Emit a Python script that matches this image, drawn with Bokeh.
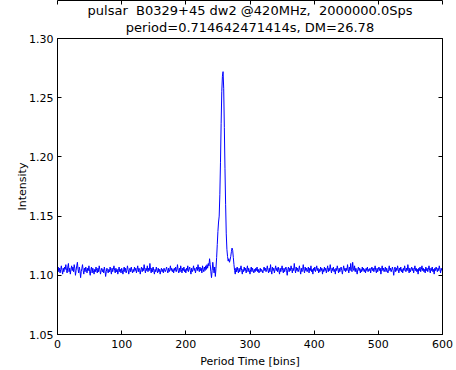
from bokeh.plotting import figure
from bokeh.models import Title, LinearAxis, Range1d, FixedTicker
from bokeh.embed import file_html
from bokeh.resources import INLINE

title_line1 = "pulsar\u00a0 B0329+45 dw2 @420MHz,\u00a0 2000000.0Sps"
title_line2 = "period=0.714642471414s, DM=26.78"
x_label = "Period Time [bins]"
y_label = "Intensity"
x_ticks = [0, 100, 200, 300, 400, 500, 600]
y_ticks = [1.05, 1.10, 1.15, 1.20, 1.25, 1.30]

# bins 0-229
left_baseline = [
    1.104,1.107,1.103,1.106,1.102,1.105,1.108,1.104,1.101,1.106,1.103,1.107,1.105,1.109,1.104,1.102,1.107,1.110,1.103,1.106,
    1.101,1.105,1.108,1.104,1.107,1.103,1.109,1.106,1.100,1.104,1.108,1.111,1.105,1.102,1.107,1.104,1.098,1.103,1.106,1.109,
    1.104,1.101,1.106,1.103,1.107,1.105,1.102,1.106,1.104,1.108,1.103,1.100,1.105,1.107,1.102,1.106,1.104,1.101,1.105,1.103,
    1.107,1.104,1.102,1.106,1.103,1.108,1.105,1.101,1.104,1.106,1.103,1.105,1.102,1.107,1.104,1.099,1.103,1.106,1.104,1.102,
    1.105,1.103,1.107,1.104,1.101,1.106,1.103,1.105,1.108,1.104,1.102,1.106,1.103,1.105,1.101,1.104,1.107,1.103,1.105,1.102,
    1.106,1.104,1.101,1.105,1.107,1.103,1.106,1.102,1.104,1.108,1.105,1.101,1.104,1.106,1.103,1.107,1.104,1.102,1.105,1.103,
    1.107,1.104,1.106,1.102,1.105,1.108,1.103,1.106,1.104,1.101,1.105,1.107,1.103,1.106,1.104,1.109,1.105,1.102,1.106,1.104,
    1.108,1.103,1.106,1.104,1.110,1.105,1.102,1.106,1.103,1.107,1.104,1.101,1.105,1.103,1.107,1.104,1.102,1.106,1.103,1.105,
    1.101,1.104,1.106,1.103,1.105,1.102,1.106,1.104,1.103,1.105,1.107,1.104,1.102,1.106,1.103,1.105,1.108,1.104,1.106,1.103,
    1.105,1.102,1.106,1.104,1.107,1.103,1.105,1.109,1.104,1.102,1.106,1.103,1.108,1.105,1.102,1.106,1.104,1.107,1.103,1.105,
    1.102,1.106,1.104,1.108,1.103,1.105,1.107,1.104,1.101,1.106,1.103,1.105,1.108,1.104,1.106,1.102,1.105,1.107,1.104,1.109,
    1.105,1.103,1.107,1.104,1.106,1.102,1.108,1.105,1.103,1.107,
]

# bins 230-289
pulse_region = [
    1.104,1.108,1.105,1.109,1.106,1.110,1.108,1.114,1.109,1.103,
    1.098,1.104,1.111,1.106,1.102,1.107,1.099,1.106,1.115,1.126,
    1.137,1.145,1.150,1.168,1.195,1.228,1.255,1.268,1.272,1.258,
    1.225,1.190,1.160,1.135,1.122,1.116,1.112,1.114,1.111,1.113,
    1.116,1.120,1.123,1.121,1.115,1.109,1.104,1.101,1.106,1.103,
    1.107,1.104,1.102,1.106,1.103,1.105,1.108,1.104,1.101,1.105,
]

# bins 290-599
right_baseline = [
    1.103,1.107,1.104,1.106,1.102,1.105,1.108,1.103,1.106,1.104,1.101,1.105,1.107,1.103,1.106,1.104,1.102,1.105,1.103,1.106,
    1.104,1.107,1.103,1.105,1.102,1.104,1.106,1.103,1.105,1.104,1.102,1.105,1.107,1.104,1.106,1.103,1.105,1.108,1.104,1.102,
    1.106,1.103,1.109,1.104,1.101,1.107,1.104,1.106,1.102,1.105,1.108,1.104,1.106,1.103,1.107,1.104,1.101,1.106,1.103,1.105,
    1.108,1.104,1.102,1.106,1.103,1.105,1.107,1.104,1.100,1.105,1.107,1.103,1.106,1.104,1.108,1.105,1.102,1.106,1.104,1.110,
    1.105,1.102,1.107,1.104,1.106,1.103,1.105,1.108,1.104,1.101,1.106,1.103,1.105,1.109,1.104,1.102,1.107,1.104,1.106,1.103,
    1.105,1.107,1.102,1.106,1.104,1.108,1.103,1.105,1.101,1.106,1.104,1.107,1.103,1.105,1.108,1.104,1.106,1.102,1.105,1.103,
    1.107,1.104,1.106,1.101,1.105,1.103,1.107,1.104,1.106,1.102,1.105,1.108,1.103,1.106,1.104,1.109,1.105,1.102,1.106,1.104,
    1.107,1.103,1.105,1.101,1.106,1.104,1.108,1.105,1.102,1.106,1.103,1.105,1.107,1.104,1.101,1.105,1.108,1.104,1.106,1.103,
    1.106,1.104,1.109,1.105,1.102,1.107,1.104,1.110,1.105,1.103,1.111,1.106,1.104,1.108,1.103,1.106,1.104,1.101,1.105,1.107,
    1.104,1.106,1.102,1.105,1.103,1.107,1.104,1.106,1.103,1.105,1.102,1.106,1.104,1.107,1.103,1.105,1.104,1.106,1.102,1.105,
    1.107,1.104,1.106,1.103,1.105,1.108,1.104,1.102,1.106,1.103,1.105,1.107,1.104,1.106,1.101,1.105,1.108,1.104,1.106,1.103,
    1.105,1.107,1.103,1.106,1.104,1.102,1.105,1.108,1.104,1.106,1.103,1.105,1.107,1.104,1.100,1.105,1.107,1.103,1.106,1.104,
    1.108,1.105,1.102,1.106,1.104,1.107,1.103,1.105,1.102,1.106,1.104,1.108,1.105,1.103,1.106,1.104,1.109,1.105,1.102,1.106,
    1.103,1.105,1.107,1.104,1.106,1.102,1.105,1.108,1.104,1.106,1.103,1.105,1.101,1.106,1.104,1.107,1.103,1.105,1.108,1.104,
    1.106,1.103,1.105,1.102,1.107,1.104,1.106,1.103,1.105,1.108,1.104,1.102,1.106,1.104,1.107,1.103,1.105,1.101,1.106,1.104,
    1.107,1.105,1.103,1.106,1.104,1.108,1.105,1.102,1.106,1.104,
]

intensity = left_baseline + pulse_region + right_baseline
bins = list(range(len(intensity)))

FONT = "DejaVu Sans"

p = figure(width=456, height=370, output_backend="svg", toolbar_location=None,
           x_range=Range1d(0, 600), y_range=Range1d(1.05, 1.30),
           min_border_left=57, min_border_right=14, min_border_top=38, min_border_bottom=10,
           background_fill_color="white", border_fill_color="white")
p.title.visible = False

p.line(bins, intensity, line_color="#0000ff", line_width=1)

for txt, pad in [(title_line2, (0, 0, 0, 4)), (title_line1, 0)]:
    t = Title(text=txt, align="center", text_font=FONT, text_font_size="13px",
              text_font_style="normal", text_color="#000000", offset=0, standoff=0,
              padding=pad)
    p.add_layout(t, "above")

p.grid.visible = False
p.outline_line_color = "#000000"
p.outline_line_width = 1

def style_axis(ax, labels=True):
    ax.axis_line_color = "#000000"
    ax.major_tick_line_color = "#000000"
    ax.major_tick_in = 4
    ax.major_tick_out = 0
    ax.minor_tick_line_color = None
    ax.major_label_text_font = FONT
    ax.major_label_text_font_size = "11px"
    ax.major_label_text_color = "#000000"
    ax.axis_label_text_font = FONT
    ax.axis_label_text_font_size = "11px"
    ax.axis_label_text_font_style = "normal"
    ax.axis_label_text_color = "#000000"
    if not labels:
        ax.major_label_text_font_size = "0px"
        ax.major_label_text_color = None

xa = p.xaxis[0]
xa.ticker = FixedTicker(ticks=x_ticks)
xa.axis_label = x_label
xa.major_label_standoff = 5
xa.axis_label_standoff = 4
style_axis(xa)

ya = p.yaxis[0]
ya.ticker = FixedTicker(ticks=y_ticks)
ya.axis_label = y_label
ya.major_label_overrides = {t: f"{t:.2f}" for t in y_ticks}
ya.major_label_standoff = 4
ya.axis_label_standoff = -3
style_axis(ya)

top = LinearAxis(ticker=FixedTicker(ticks=x_ticks))
style_axis(top, labels=False)
top.major_label_standoff = 0
p.add_layout(top, "above")

right = LinearAxis(ticker=FixedTicker(ticks=y_ticks))
style_axis(right, labels=False)
right.major_label_standoff = 0
p.add_layout(right, "right")

open("out.html", "w").write(file_html(p, INLINE))
